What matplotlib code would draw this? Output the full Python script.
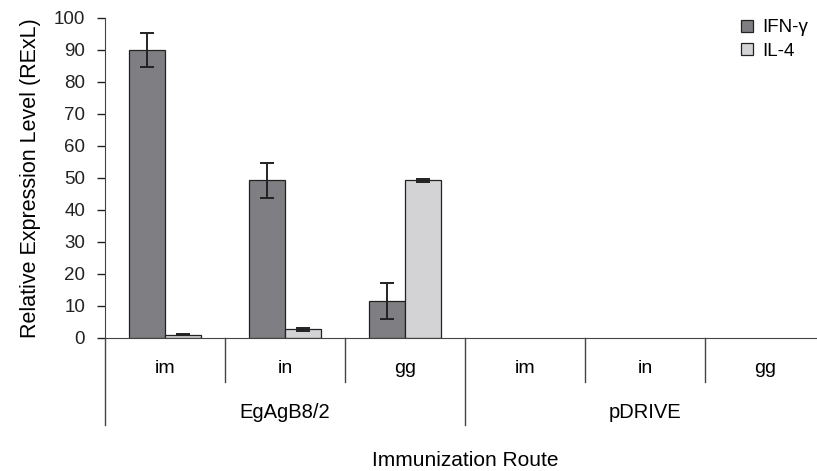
import numpy as np
import matplotlib.pyplot as plt

plt.rcParams['font.family'] = ['Liberation Sans', 'DejaVu Sans']

routes = ["im", "in", "gg", "im", "in", "gg"]
groups = ["EgAgB8/2", "pDRIVE"]
ifn = [90.0, 49.2, 11.6, 0, 0, 0]
ifn_err = [5.2, 5.4, 5.6, 0, 0, 0]
il4 = [1.0, 2.6, 49.2, 0, 0, 0]
il4_err = [0.3, 0.5, 0.4, 0, 0, 0]

fig = plt.figure(figsize=(8.17, 4.71), dpi=100)
W, H = 817, 471
ax = fig.add_axes([105 / W, 1 - 337.7 / H, 720 / W, (337.7 - 18) / H])

x = np.arange(len(routes)) + 0.5
bw = 0.296
show = [i for i in range(3)]
ax.bar(x[show] - bw / 2, np.array(ifn)[show], bw, color='#7f7f83', edgecolor='#222222',
       linewidth=0.9, label='IFN-γ')
ax.bar(x[show] + bw / 2, np.array(il4)[show], bw, color='#d3d3d5', edgecolor='#222222',
       linewidth=0.9, label='IL-4')
ax.errorbar(x[show] - bw / 2, np.array(ifn)[show], yerr=np.array(ifn_err)[show], fmt='none',
            ecolor='#222222', elinewidth=1.4, capsize=5, capthick=1.4)
ax.errorbar(x[show] + bw / 2, np.array(il4)[show], yerr=np.array(il4_err)[show], fmt='none',
            ecolor='#222222', elinewidth=1.4, capsize=5, capthick=1.4)

ax.set_xlim(0, 6)
ax.set_ylim(0, 100)
ax.set_yticks(np.arange(0, 101, 10))
ax.tick_params(axis='y', direction='out', length=5.8, width=1, pad=8.5, labelsize=13.5,
               colors='#222222')
for s in ['top', 'right']:
    ax.spines[s].set_visible(False)
ax.spines['left'].set_color('#444444')
ax.spines['bottom'].set_color('#444444')

ax.set_xticks(x)
ax.set_xticklabels(routes, fontsize=14)
ax.tick_params(axis='x', length=0, pad=16)

# boundary lines under the axis
tr = ax.get_xaxis_transform()
for b in [1, 2, 4, 5]:
    ax.plot([b, b], [0, -44.5 / 319.7], transform=tr, color='#444444', lw=1, clip_on=False)
for b in [0, 3, 6]:
    ax.plot([b, b], [0, -87.5 / 319.7], transform=tr, color='#444444', lw=1, clip_on=False)
for gi, g in enumerate(groups):
    ax.text(1.5 + 3 * gi, -(413 - 337.7) / 319.7, g, transform=tr, ha='center', va='center',
            fontsize=14.5)

fig.text(465 / W, 1 - 460 / H, "Immunization Route", ha='center', va='center', fontsize=15)
ax.set_ylabel("Relative Expression Level (RExL)", fontsize=15.5, labelpad=9)

ax.legend(loc='upper left', bbox_to_anchor=(732 / W, 1 - 10 / H), bbox_transform=fig.transFigure,
          frameon=False, fontsize=13.5, handlelength=0.6, handleheight=0.6, handletextpad=0.5,
          labelspacing=0.35, borderpad=0)

fig.savefig("out.png", dpi=100)
